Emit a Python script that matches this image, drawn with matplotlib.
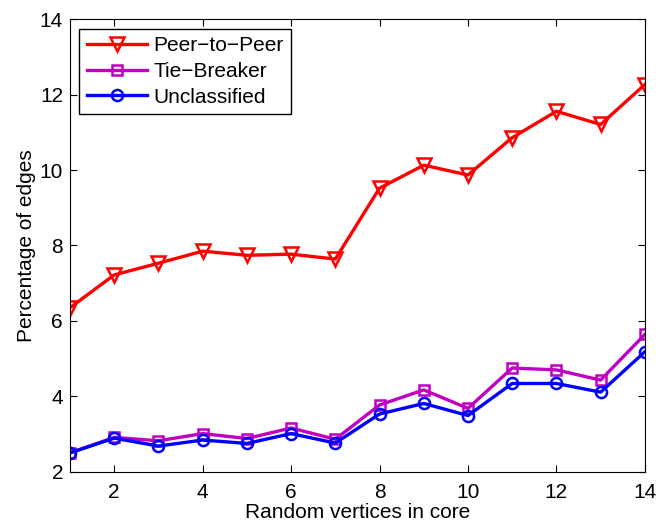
import matplotlib
matplotlib.use('Agg')
import matplotlib.pyplot as plt

plt.rcParams['font.family'] = ['Liberation Sans', 'DejaVu Sans']

# data
x = list(range(1, 15))
peer = [6.35, 7.22, 7.53, 7.85, 7.74, 7.77, 7.64, 9.52, 10.13, 9.87, 10.86, 11.56, 11.21, 12.27]
tie = [2.50, 2.91, 2.82, 3.01, 2.88, 3.16, 2.86, 3.77, 4.17, 3.68, 4.75, 4.70, 4.43, 5.64]
uncl = [2.50, 2.89, 2.68, 2.84, 2.75, 3.01, 2.76, 3.53, 3.81, 3.49, 4.34, 4.34, 4.11, 5.18]

fig = plt.figure(figsize=(6.58, 5.24), dpi=100)
ax = fig.add_axes([0.1064, 0.0998, 0.8736, 0.8634])

ax.plot(x, peer, color='red', lw=2.4, marker='v', ms=10, mfc='none', mew=1.8, label='Peer\u2212to\u2212Peer')
ax.plot(x, tie, color='#c000c0', lw=2.4, marker='s', ms=7, mfc='none', mew=1.8, label='Tie\u2212Breaker')
ax.plot(x, uncl, color='blue', lw=2.4, marker='o', ms=8, mfc='none', mew=1.8, label='Unclassified')

ax.set_xlim(1, 14)
ax.set_ylim(2, 14)
ax.set_xticks([2, 4, 6, 8, 10, 12, 14])
ax.set_yticks([2, 4, 6, 8, 10, 12, 14])
ax.tick_params(direction='in', top=True, right=True, labelsize=15, length=5, pad=5)
ax.tick_params(axis='x', pad=8)
ax.set_xlabel('Random vertices in core', fontsize=15, labelpad=1)
ax.set_ylabel('Percentage of edges', fontsize=15, labelpad=3)

leg = ax.legend(loc='upper left', fontsize=15, fancybox=False, edgecolor='black',
                framealpha=1, borderaxespad=0.45, handlelength=2.9, labelspacing=0.33,
                borderpad=0.35, handletextpad=0.3)
leg.get_frame().set_linewidth(1.0)

fig.savefig('out.png', dpi=100)
